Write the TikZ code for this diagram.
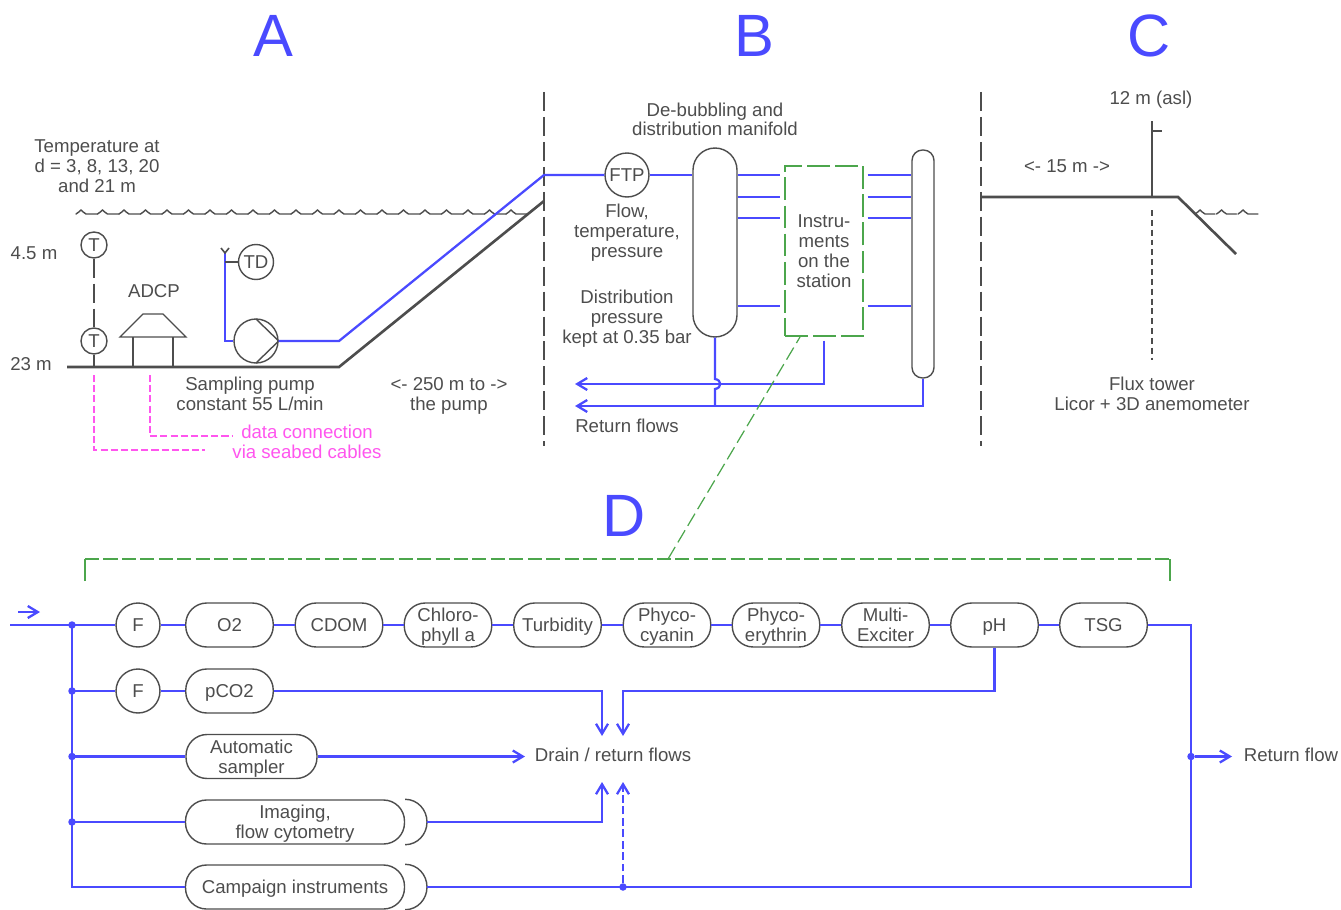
\documentclass[tikz,border=0pt]{standalone}
\usepackage{fontspec}
\setmainfont{Liberation Sans}
\usepackage{xcolor}
\usetikzlibrary{shapes}
\usetikzlibrary{positioning}
\usetikzlibrary{arrows.meta}
\definecolor{flowblue}{HTML}{4A4AFF}
\definecolor{inkgray}{HTML}{4D4D4D}
\definecolor{boxgreen}{HTML}{4CA64C}
\definecolor{cablepink}{HTML}{FF55EE}
\tikzset{
  every node/.style={text=inkgray, font=\fontsize{10.6}{11.34}\selectfont, align=center, inner sep=0pt, text depth=0pt},
  outline/.style={draw=inkgray, line width=0.8pt},
  pill/.style={outline, rectangle, rounded corners=0.42cm, minimum height=0.88cm},
  probe/.style={outline, circle},
  flow/.style={draw=flowblue, line width=1.3pt},
  flowtip/.style={flow, -{Straight Barb[length=2mm, width=2.4mm, line width=1.3pt]}},
  ground/.style={draw=inkgray, line width=1.5pt},
  divider/.style={draw=inkgray, line width=0.8pt, dash pattern=on 10.8pt off 3.4pt},
  cable/.style={draw=cablepink, line width=0.8pt, dash pattern=on 4pt off 1.8pt},
  stationbox/.style={draw=boxgreen, line width=0.8pt, dash pattern=on 13pt off 3pt},
  bigletter/.style={text=flowblue, font=\fontsize{34}{34}\selectfont},
  junction/.style={fill=flowblue, circle, minimum size=0.15cm},
  wavelet/.style={draw=inkgray, line width=0.8pt, line cap=round}
}
\begin{document}
\begin{tikzpicture}[x=0.02cm, y=-0.02cm]
\useasboundingbox (0,0) rectangle (1341,909);
\node at (273,36) [bigletter, name=LetterA]{A};
\node at (754,36) [bigletter, name=LetterB]{B};
\node at (1149,36) [bigletter, name=LetterC]{C};
\node at (624,516) [bigletter, name=LetterD]{D};
\draw [divider] (544,92) -- (544,446);
\draw [divider] (981,92) -- (981,446);

% part A
\foreach \x in {76,97.5,...,510}{
  \draw [wavelet] (\x,214) .. controls (\x+3,213.5) and (\x+3.5,210) .. (\x+5,210) .. controls (\x+6.5,210) and (\x+7,213.5) .. (\x+10,214) -- (\x+21.5,214);
}
\node at (97,166) [name=TempText]{Temperature at\\d = 3, 8, 13, 20\\and 21 m};
\node at (34,253) [name=DepthTop]{4.5 m};
\node at (31,364) [name=DepthBottom]{23 m};
\node at (94,245) [probe, name=TempTop, minimum size=0.52cm]{T};
\node at (94,341) [probe, name=TempBottom, minimum size=0.52cm]{T};
\node at (154,291) [name=AdcpText]{ADCP};
\node at (256,262) [probe, name=TD, minimum size=0.7cm]{TD};
\node at (256,341) [probe, name=Pump, minimum size=0.88cm]{};
\node at (250,394) [name=PumpText]{Sampling pump\\constant 55 L/min};
\node at (449,394) [name=LengthText]{<- 250 m to ->\\the pump};
\node at (307,442) [name=CableText, text=cablepink]{data connection\\via seabed cables};
\coordinate (SeabedStart) at (67,367);
\coordinate (SeabedBend) at (339,367);
\coordinate (SeabedEnd) at (544,201);
\draw [ground] (SeabedStart) -- (SeabedBend) -- (SeabedEnd);
\draw [outline] (TempBottom) -- (TempBottom |- SeabedStart);
\draw [inkgray, line width=0.8pt, dash pattern=on 10.8pt off 3.4pt] (TempTop) -- (TempBottom);
\draw [outline] (120,337) -- (143,314) -- (163,314) -- (186,337) -- cycle;
\draw [outline] (133,337) -- (133,367);
\draw [outline] (173,337) -- (173,367);
\draw [outline] (256,319) -- (Pump.east) -- (256,363);
\coordinate (Intake) at (225,253);
\draw [flow] (Pump.west) -- (Intake |- Pump) -- (Intake);
\draw [inkgray, line width=0.9pt] (221,248) -- (Intake) -- (229,248);
\draw [outline] (Intake |- TD) -- (TD);
\draw [cable] (94,375) -- (94,450) -- (205,450);
\draw [cable] (150,375) -- (150,436) -- (232,436);

% part B
\node at (715,242.5) [outline, name=Manifold, rectangle, rounded corners=0.44cm, minimum width=0.88cm, minimum height=3.78cm]{};
\node [above=0.22cm of Manifold, name=ManifoldText]{De-bubbling and\\distribution manifold};
\node at (627,175) [probe, name=FTP, minimum size=0.88cm]{FTP};
\node [below=0.12cm of FTP, name=FtpText]{Flow,\\temperature,\\pressure};
\node at (627,317) [name=PressureText]{Distribution\\pressure\\kept at 0.35 bar};
\node at (923,264) [outline, name=Vessel, rectangle, rounded corners=0.21cm, minimum width=0.44cm, minimum height=4.56cm]{};
\node at (824,251) [name=Instruments, stationbox, text=inkgray, rectangle, minimum width=1.56cm, minimum height=3.4cm]{Instru-\\ments\\on the\\station};
\coordinate (PipeIn) at (544,175);
\draw [flow] (Pump.east) -- (SeabedBend |- Pump) -- (PipeIn) -- (FTP);
\draw [flow] (FTP) -- (Manifold.west |- FTP);
\foreach \y in {175,197,218,306}{
  \draw [flow, shorten >=0.08cm] (Manifold.east |- 0,\y) -- (Instruments.west |- 0,\y);
  \draw [flow, shorten <=0.08cm] (Instruments.east |- 0,\y) -- (Vessel.west |- 0,\y);
}
\coordinate (ReturnUpper) at (575,384);
\coordinate (ReturnLower) at (575,406);
\draw [flowtip, shorten <=0.08cm] (Instruments.south) -- (Instruments.south |- ReturnUpper) -- (ReturnUpper);
\draw [flowtip] (Vessel.south) -- (Vessel.south |- ReturnLower) -- (ReturnLower);
\draw [flow] (Manifold.south) -- (715,379) .. controls (722,380) and (722,388) .. (715,389) -- (Manifold.south |- ReturnLower);
\node at (627,426) [name=ReturnText]{Return flows};

% part C
\node at (1151,98) [name=HeightText]{12 m (asl)};
\node at (1067,166) [name=DistanceText]{<- 15 m ->};
\node at (1152,394) [name=FluxText]{Flux tower\\Licor + 3D anemometer};
\coordinate (ShoreStart) at (981,197);
\coordinate (ShoreBend) at (1178,197);
\coordinate (ShoreEnd) at (1236,254);
\coordinate (MastBase) at (1152,197);
\coordinate (MastTop) at (1152,121);
\draw [ground] (ShoreStart) -- (ShoreBend) -- (ShoreEnd);
\draw [ground, line width=1.3pt] (MastBase) -- (MastTop);
\draw [ground, line width=1.1pt] (1152,131) -- (1162,131);
\draw [inkgray, line width=0.7pt, dash pattern=on 3.4pt off 2.2pt] (1152,210) -- (1152,360);
\foreach \x in {1195,1216.5,1238}{
  \draw [wavelet] (\x,214) .. controls (\x+3,213.5) and (\x+3.5,210) .. (\x+5,210) .. controls (\x+6.5,210) and (\x+7,213.5) .. (\x+10,214) -- (\x+20,214);
}

% part D
\coordinate (BraceLeft) at (85,581);
\coordinate (BraceRight) at (1170,581);
\coordinate (BraceLink) at (668,559);
\draw [draw=boxgreen, line width=0.8pt] (BraceLeft) -- (85,559);
\draw [draw=boxgreen, line width=0.8pt] (BraceRight) -- (1170,559);
\draw [stationbox, dash pattern=on 8pt off 2.5pt] (85,559) -- (1170,559);
\draw [stationbox, line width=0.7pt, dash pattern=on 8pt off 3pt] (BraceLink) -- (800,337);
\node at (138,625) [probe, name=FlowOne, minimum size=0.88cm]{F};
\foreach \name/\xpos/\txt in {O2/229.5/O2, CDOM/339/CDOM, Chloro/448/{Chloro-\\phyll a}, Turbidity/557.5/Turbidity, Cyanin/667/{Phyco-\\cyanin}, Erythrin/776/{Phyco-\\erythrin}, Exciter/885.5/{Multi-\\Exciter}, PH/994.5/pH, TSG/1103.5/TSG}{
  \node at (\xpos,625) [pill, name=\name, minimum width=1.75cm]{\txt};
}
\foreach \from/\to in {FlowOne/O2, O2/CDOM, CDOM/Chloro, Chloro/Turbidity, Turbidity/Cyanin, Cyanin/Erythrin, Erythrin/Exciter, Exciter/PH, PH/TSG}{
  \draw [flow] (\from) -- (\to);
}
\node at (138,691) [probe, name=FlowTwo, minimum size=0.88cm]{F};
\node at (229.5,691) [pill, name=PCO, minimum width=1.75cm]{pCO2};
\node at (251.5,756.5) [pill, name=Sampler, minimum width=2.62cm]{Automatic\\sampler};
\node at (295,822) [pill, name=Imaging, minimum width=4.38cm]{Imaging,\\flow cytometry};
\node at (295,887) [pill, name=Campaign, minimum width=4.38cm]{Campaign instruments};
\coordinate (ImagingCap) at (427,822);
\coordinate (CampaignCap) at (427,887);
\draw [outline] (Imaging.north east) to[out=0, in=90] (ImagingCap) to[out=-90, in=0] (Imaging.south east);
\draw [outline] (Campaign.north east) to[out=0, in=90] (CampaignCap) to[out=-90, in=0] (Campaign.south east);
\node at (613,755) [name=Drain]{Drain / return flows};
\node at (1291,755) [name=ReturnFlow]{Return flow};

% feed line and branches
\coordinate (FeedStart) at (10,625);
\coordinate (TrunkTop) at (72,625);
\coordinate (TrunkBottom) at (72,887);
\coordinate (RightBend) at (1191,625);
\coordinate (RightBottom) at (1191,887);
\coordinate (RightTap) at (1191,756.5);
\coordinate (TapMiddle) at (623,887);
\coordinate (DrainIn) at (525,756.5);
\draw [flow] (FeedStart) -- (FlowOne);
\draw [flow] (TrunkTop) -- (TrunkBottom) -- (Campaign);
\draw [flow] (TrunkTop |- FlowTwo) -- (FlowTwo) -- (PCO);
\draw [flow] (TrunkTop |- Sampler) -- (Sampler);
\draw [flow] (TrunkTop |- Imaging) -- (Imaging);
\foreach \y in {625,691,756.5,822}{
  \node at (72,\y) [junction]{};
}
\node at (RightTap) [junction, name=TapRight]{};
\node at (TapMiddle) [junction, name=TapDrain]{};
\coordinate (ArrowSmallStart) at (18,612);
\coordinate (ArrowSmallEnd) at (40,612);
\draw [flowtip] (ArrowSmallStart) -- (ArrowSmallEnd);
\draw [flow] (TSG) -- (RightBend) -- (RightBottom) -- (CampaignCap);
\draw [flowtip] (TapRight) -- (1232,756.5);
\draw [flowtip, dash pattern=on 4.5pt off 2pt] (TapDrain) -- (623,782);
\draw [flowtip] (Sampler) -- (DrainIn);
\draw [flowtip] (PCO) -- (602,691) -- (602,736);
\draw [flowtip] (PH) -- (PH |- 0,691) -- (623,691) -- (623,736);
\draw [flowtip] (ImagingCap) -- (602,822) -- (602,782);
\end{tikzpicture}
\end{document}
